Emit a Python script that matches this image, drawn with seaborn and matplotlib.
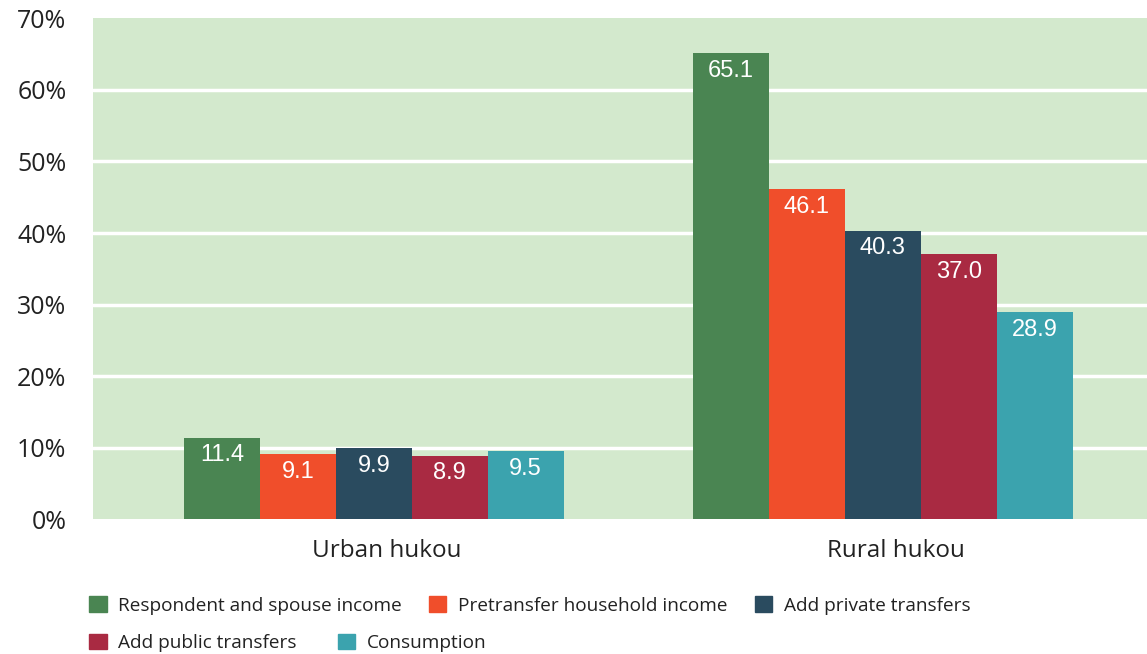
import matplotlib
matplotlib.use("Agg")
import matplotlib.pyplot as plt
import matplotlib.patches as mpatches
from matplotlib.transforms import ScaledTranslation
import pandas as pd
import seaborn as sns

# Poverty rates by hukou status under successive income/consumption measures
groups = ["Urban hukou", "Rural hukou"]
measures = [
    "Respondent and spouse income",
    "Pretransfer household income",
    "Add private transfers",
    "Add public transfers",
    "Consumption",
]
urban_values = [11.4, 9.1, 9.9, 8.9, 9.5]
rural_values = [65.1, 46.1, 40.3, 37.0, 28.9]
y_ticks = [0, 10, 20, 30, 40, 50, 60, 70]
colors = ["#4a8552", "#f04e2b", "#2a4b5f", "#a92a42", "#3ba3ae"]

df = pd.DataFrame({
    "group": [groups[0]] * len(measures) + [groups[1]] * len(measures),
    "measure": measures * 2,
    "value": urban_values + rural_values,
})

sns.set_theme(style="white")
plt.rcParams["font.family"] = ["Open Sans", "DejaVu Sans"]

fig = plt.figure(figsize=(11.47, 6.54), dpi=100)
ax = fig.add_axes([0.081, 0.206, 0.919, 0.766])
ax.set_facecolor("#d3e9cd")

sns.barplot(
    data=df, x="group", y="value", hue="measure", order=groups,
    hue_order=measures, palette=colors, width=0.746, gap=0,
    saturation=1, linewidth=0, edgecolor="none",
    ax=ax, legend=False, zorder=3,
)

ax.set_ylim(0, 70)
ax.set_xlim(-0.552, 1.519)
ax.set_yticks(y_ticks)
ax.set_yticklabels([f"{t}%" for t in y_ticks], fontsize=18, color="#222222")
ax.tick_params(axis="x", labelsize=17.5, colors="#222222", pad=14, length=0)
ax.tick_params(axis="y", length=0, pad=19)
# nudge the category labels slightly to the right
shift = ScaledTranslation(13 / 100, 0, fig.dpi_scale_trans)
for lbl in ax.get_xticklabels():
    lbl.set_transform(lbl.get_transform() + shift)
for t in y_ticks[1:-1]:
    ax.axhline(t, color="white", lw=2.5, zorder=1)
ax.set_xlabel("")
ax.set_ylabel("")
for s in ax.spines.values():
    s.set_visible(False)

# value labels inside the top of each bar
for container in ax.containers:
    for bar in container:
        h = bar.get_height()
        ax.annotate(
            f"{h:.1f}", (bar.get_x() + bar.get_width() / 2, h),
            xytext=(0, -12.5), textcoords="offset points",
            ha="center", va="center", color="white", fontsize=17,
            family="Liberation Sans", zorder=4,
        )

handles = [mpatches.Patch(color=c, label=m) for c, m in zip(colors, measures)]
leg_kw = dict(frameon=False, fontsize=13.7, handlelength=0.9, handleheight=0.9,
              handletextpad=0.6, borderaxespad=0,
              borderpad=0, labelcolor="#222222")
fig.legend(handles=handles[:3], ncol=3, loc="center left", columnspacing=1.45,
           bbox_to_anchor=(0.078, 0.074), **leg_kw)
fig.legend(handles=handles[3:], ncol=2, loc="center left", columnspacing=2.2,
           bbox_to_anchor=(0.078, 0.017), **leg_kw)

fig.savefig("out.png", dpi=100)
